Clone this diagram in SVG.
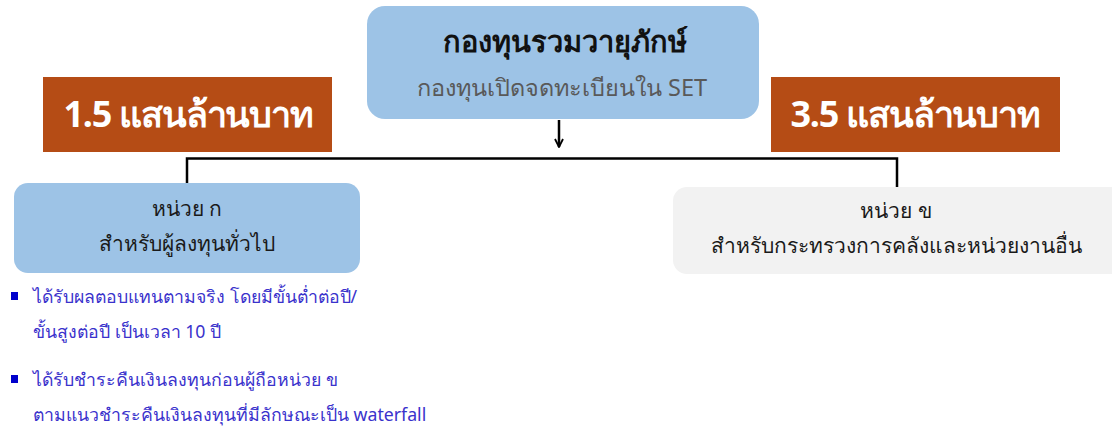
<svg xmlns="http://www.w3.org/2000/svg" width="1112" height="431" viewBox="0 0 1112 431">
<style>
text { font-family: "Noto Sans", "DejaVu Sans", sans-serif; }
.title { font-size: 29px; font-weight: bold; fill: #111; text-anchor: middle; }
.sub { font-size: 23.5px; fill: #595959; text-anchor: middle; }
.amount { font-size: 36px; font-weight: bold; fill: #ffffff; text-anchor: middle; letter-spacing: -1.2px; }
.unit { font-size: 21px; fill: #1a1a1a; text-anchor: middle; }
.bullet { font-size: 17.7px; fill: #3a32cc; }
.conn { stroke: #000; stroke-width: 2.5; fill: none; }
</style>
<defs>
<marker id="arr" viewBox="0 0 10 10" refX="9" refY="5" markerWidth="10" markerHeight="10" orient="auto" markerUnits="userSpaceOnUse">
<path d="M1,1 L9,5 L1,9" fill="none" stroke="#000" stroke-width="1.8"/>
</marker>
</defs>
<rect width="1112" height="431" fill="#ffffff"/>
<g id="connectors">
<line class="conn" x1="559" y1="120" x2="559" y2="147" stroke-width="2" marker-end="url(#arr)"/>
<polyline class="conn" points="187,184 187,158.5 897,158.5 897,188"/>
</g>
<g id="fund">
<rect x="367" y="6" width="392" height="113" rx="18" fill="#9dc3e6"/>
<text class="title" x="565" y="52">กองทุนรวมวายุภักษ์</text>
<text class="sub" x="562" y="96">กองทุนเปิดจดทะเบียนใน SET</text>
</g>
<g id="amount-a">
<rect x="43" y="77" width="289" height="75" fill="#b54c15"/>
<text class="amount" x="188" y="127">1.5 แสนล้านบาท</text>
</g>
<g id="amount-b">
<rect x="771" y="77" width="289" height="75" fill="#b54c15"/>
<text class="amount" x="915" y="127">3.5 แสนล้านบาท</text>
</g>
<g id="unit-a">
<rect x="14" y="183" width="346" height="90" rx="14" fill="#9dc3e6"/>
<text class="unit" x="187" y="216">หน่วย ก</text>
<text class="unit" x="187" y="251">สำหรับผู้ลงทุนทั่วไป</text>
</g>
<g id="unit-b">
<rect x="673" y="187" width="460" height="87" rx="14" fill="#f2f2f2"/>
<text class="unit" x="896" y="218">หน่วย ข</text>
<text class="unit" x="896" y="253">สำหรับกระทรวงการคลังและหน่วยงานอื่น</text>
</g>
<g id="notes">
<rect x="11" y="292" width="7" height="8" fill="#0000cc"/>
<text class="bullet" x="33" y="303">ได้รับผลตอบแทนตามจริง โดยมีขั้นต่ำต่อปี/</text>
<text class="bullet" x="33" y="338">ขั้นสูงต่อปี เป็นเวลา 10 ปี</text>
<rect x="11" y="375" width="7" height="8" fill="#0000cc"/>
<text class="bullet" x="33" y="386">ได้รับชำระคืนเงินลงทุนก่อนผู้ถือหน่วย ข</text>
<text class="bullet" x="33" y="421">ตามแนวชำระคืนเงินลงทุนที่มีลักษณะเป็น waterfall</text>
</g>
</svg>
